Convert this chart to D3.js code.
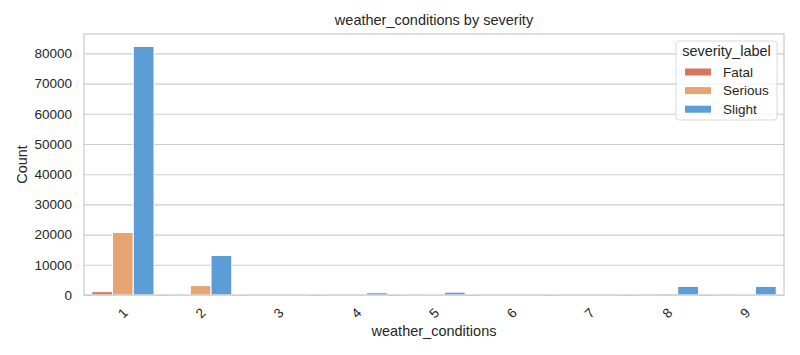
<!DOCTYPE html>
<html>
<head>
<meta charset="utf-8">
<script src="https://cdn.jsdelivr.net/npm/d3@7"></script>
<style>
  body { margin: 0; background: #fff; }
  svg text { font-family: "Liberation Sans", Arial, sans-serif; fill: #262626; }
</style>
</head>
<body>
<svg id="chart" width="800" height="355"></svg>
<script>
// categories and series
const categories = ["1", "2", "3", "4", "5", "6", "7", "8", "9"];
const severities = ["Fatal", "Serious", "Slight"];
const fatal = [1100, 150, 10, 20, 20, 10, 10, 40, 30];
const serious = [20700, 3100, 40, 100, 150, 20, 40, 500, 200];
const slight = [82300, 13100, 120, 750, 950, 80, 120, 2850, 2850];
const yTicks = [0, 10000, 20000, 30000, 40000, 50000, 60000, 70000, 80000];
const colors = ["#d8755f", "#e6a472", "#5c9dd8"];

const seriesValues = [fatal, serious, slight];
const data = categories.map((c, i) => ({
  cat: c,
  values: severities.map((s, j) => ({ key: s, value: seriesValues[j][i] }))
}));

const width = 800;
const height = 355;
const margin = { top: 34, right: 16, bottom: 60, left: 84 };
const innerWidth = width - margin.left - margin.right;
const innerHeight = height - margin.top - margin.bottom;

const svg = d3.select("#chart");
const g = svg.append("g")
  .attr("transform", `translate(${margin.left}, ${margin.top})`);

const xScale = d3.scaleBand()
  .domain(categories)
  .range([0, innerWidth])
  .paddingInner(0.2)
  .paddingOuter(0.1);

const xSub = d3.scaleBand()
  .domain(severities)
  .range([0, xScale.bandwidth()]);

const yScale = d3.scaleLinear()
  .domain([0, d3.max(slight) * 1.05])
  .range([innerHeight, 0]);

const color = d3.scaleOrdinal().domain(severities).range(colors);

// grid + y ticks
const yAxis = d3.axisLeft(yScale)
  .tickValues(yTicks)
  .tickFormat(d3.format("d"))
  .tickSize(-innerWidth)
  .tickPadding(12);

const yAxisG = g.append("g").call(yAxis);
yAxisG.select(".domain").remove();
yAxisG.selectAll(".tick line").attr("stroke", "#cccccc").attr("stroke-width", 1.1);
yAxisG.selectAll(".tick text").attr("font-size", "13.5px");

// bars
g.selectAll(".group")
  .data(data)
  .enter()
  .append("g")
  .attr("transform", d => `translate(${xScale(d.cat)}, 0)`)
  .selectAll("rect")
  .data(d => d.values)
  .enter()
  .append("rect")
  .attr("x", d => xSub(d.key))
  .attr("width", xSub.bandwidth())
  .attr("y", d => yScale(d.value))
  .attr("height", d => innerHeight - yScale(d.value))
  .attr("fill", d => color(d.key))
  .attr("stroke", "#ffffff")
  .attr("stroke-width", 1);

// x ticks
const xAxis = d3.axisBottom(xScale).tickSize(0).tickPadding(0);
const xAxisG = g.append("g")
  .attr("transform", `translate(0, ${innerHeight})`)
  .call(xAxis);
xAxisG.select(".domain").remove();
xAxisG.selectAll(".tick text")
  .attr("font-size", "13.5px")
  .attr("y", 0)
  .attr("dy", "0.35em")
  .attr("text-anchor", "middle")
  .attr("transform", "translate(0, 18) rotate(-45)");

// frame
g.append("rect")
  .attr("width", innerWidth)
  .attr("height", innerHeight)
  .attr("fill", "none")
  .attr("stroke", "#cccccc")
  .attr("stroke-width", 1.25);

// labels
svg.append("text")
  .attr("x", margin.left + innerWidth / 2)
  .attr("y", 25)
  .attr("text-anchor", "middle")
  .attr("font-size", "14.5px")
  .text("weather_conditions by severity");

svg.append("text")
  .attr("x", margin.left + innerWidth / 2)
  .attr("y", 336)
  .attr("text-anchor", "middle")
  .attr("font-size", "14.5px")
  .text("weather_conditions");

svg.append("text")
  .attr("transform", `translate(27, ${margin.top + innerHeight / 2}) rotate(-90)`)
  .attr("text-anchor", "middle")
  .attr("font-size", "14.5px")
  .text("Count");

// legend
const legend = svg.append("g").attr("transform", "translate(676, 41)");
legend.append("rect")
  .attr("width", 101)
  .attr("height", 79)
  .attr("rx", 3)
  .attr("fill", "#ffffff")
  .attr("fill-opacity", 0.8)
  .attr("stroke", "#d9d9d9");
legend.append("text")
  .attr("x", 50.5)
  .attr("y", 15)
  .attr("text-anchor", "middle")
  .attr("font-size", "14.5px")
  .text("severity_label");

const items = legend.selectAll(".item")
  .data(severities)
  .enter()
  .append("g")
  .attr("transform", (d, i) => `translate(9, ${31 + i * 18.6})`);
items.append("rect")
  .attr("y", -3.5)
  .attr("width", 26)
  .attr("height", 7)
  .attr("fill", d => color(d));
items.append("text")
  .attr("x", 38)
  .attr("dy", "0.35em")
  .attr("font-size", "13.5px")
  .text(d => d);
</script>
</body>
</html>
